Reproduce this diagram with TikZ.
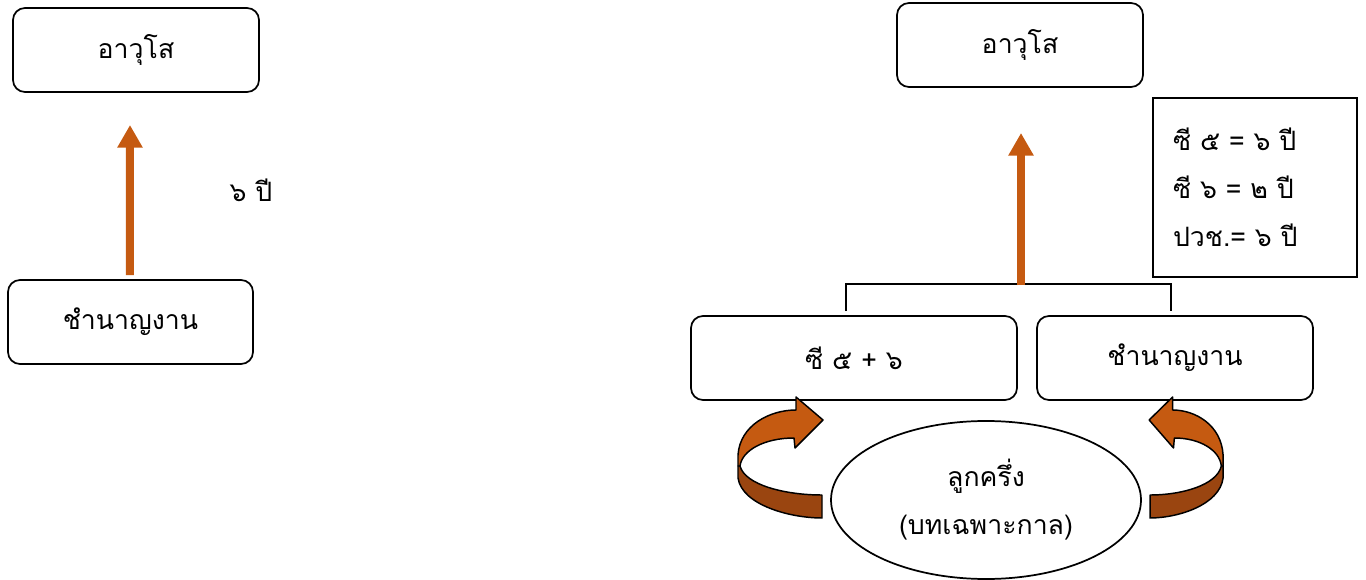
\documentclass[tikz,border=0pt]{standalone}
\usepackage{fontspec}
\setmainfont[Script=Thai]{Loma}
\usetikzlibrary{arrows.meta,shapes.geometric}
\definecolor{arroworange}{HTML}{C55A11}
\definecolor{arrowdark}{HTML}{9A4510}
\tikzset{
	rbox/.style={draw, line width=1.3pt, rounded corners=9pt, minimum height=63pt, inner sep=0pt},
	uparrow/.style={draw=arroworange, line width=6pt, -{Triangle[width=18pt,length=17pt]}},
	bracket/.style={draw, line width=1.2pt},
	turnarrow/.pic={
		\filldraw[fill=arrowdark, line width=1.1pt, line join=round] (-84,466) -- (-84,478) .. controls (-80,505) and (-32,518) .. (0,518) -- (0,495) .. controls (-37,495) and (-77,485) .. (-82,466) -- cycle;
		\filldraw[fill=arroworange, line width=1.1pt, line join=round] (-26,410) -- (-26,397) -- (1,420) -- (-27,448) -- (-28,438) .. controls (-57,438) and (-80,450) .. (-82,466) -- (-84,466) -- (-84,455) .. controls (-82,425) and (-52,410) .. (-26,410) -- cycle;
	}
}

\begin{document}
\begin{tikzpicture}[x=0.75pt, y=-0.75pt, font=\fontsize{20}{36}\selectfont]
			\useasboundingbox (0,0) rectangle (1366,580);
			\node[rbox, minimum width=184.5pt] (seniorL) at (136,50) {อาวุโส};
			\node[rbox, minimum width=183.75pt] (skillL) at (130.5,322) {ชำนาญงาน};
			\coordinate (tipL) at (130,125);
			\draw[uparrow] ([xshift=-0.4pt,yshift=3pt]skillL.north) -- (tipL);
			\node (yearsL) at (251,190) {๖ ปี};
			\node[rbox, minimum width=184.5pt] (seniorR) at (1020,45) {อาวุโส};
			\node[draw, line width=1.3pt, minimum width=153pt, minimum height=134pt, inner xsep=15pt, text width=123pt, align=left] (rules) at (1255,187.5) {ซี ๕ = ๖ ปี\\ซี ๖ = ๒ ปี\\ปวช.= ๖ ปี};
			\node[rbox, minimum width=244.5pt] (c56) at (854,358) {ซี ๕ + ๖};
			\node[rbox, minimum width=207pt] (skillR) at (1175,358) {ชำนาญงาน};
			\coordinate (fork) at (1021,284);
			\coordinate (tipR) at (1021,133);
			\draw[bracket] ([xshift=-6pt,yshift=3pt]c56.north) |- (fork) -| ([xshift=-3pt,yshift=3pt]skillR.north);
			\draw[uparrow] ([yshift=-1pt]fork) -- (tipR);
			\node[draw, ellipse, line width=1.3pt, minimum width=232.5pt, minimum height=118.5pt, inner sep=0pt, align=center] (mixed) at (986,500) {ลูกครึ่ง\\(บทเฉพาะกาล)};
			\pic at (822,0) {turnarrow};
			\pic[xscale=-0.87] at (1150,0) {turnarrow};
		\end{tikzpicture}
\end{document}
